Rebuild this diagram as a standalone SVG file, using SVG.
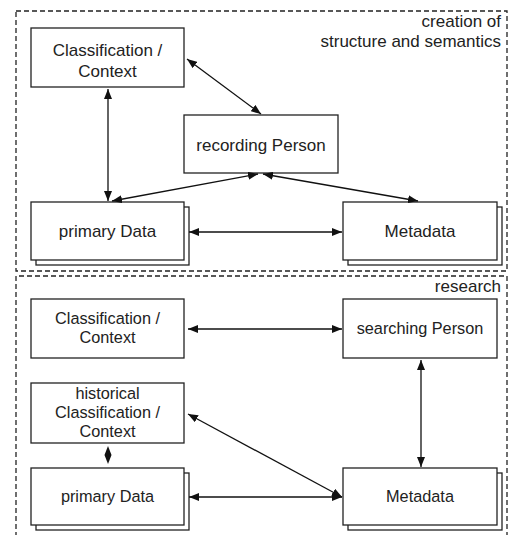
<svg xmlns="http://www.w3.org/2000/svg" width="514" height="535" viewBox="0 0 514 535">
<style>
.frame{fill:none;stroke:#222;stroke-width:1.3;stroke-dasharray:5 3}
.box{fill:#fff;stroke:#222;stroke-width:1.3}
.conn{fill:none;stroke:#111;stroke-width:1.3}
text{font-family:"Liberation Sans",Arial,sans-serif;fill:#222}
.t{font-size:17px;text-anchor:middle}
.b{font-size:16.3px;text-anchor:middle}
.lbl{font-size:17px;text-anchor:end}
</style>
<defs>
<marker id="ah" viewBox="0 0 10 8" refX="10" refY="4" markerWidth="10" markerHeight="8" markerUnits="userSpaceOnUse" orient="auto-start-reverse">
<path d="M0,0 L10,4 L0,8 Z" fill="#111"/>
</marker>
</defs>
<g id="frame-creation">
<rect class="frame" x="16" y="11" width="491" height="260"/>
<text class="lbl" x="501" y="27">creation of</text>
<text class="lbl" x="501" y="47">structure and semantics</text>
</g>
<g id="frame-research">
<path class="frame" d="M16,545 V276 H507 V545"/>
<text class="lbl" x="501" y="292">research</text>
</g>
<g id="top-classification">
<rect class="box" x="31" y="28" width="153" height="59"/>
<text class="t" x="107.5" y="56">Classification /</text>
<text class="t" x="107.5" y="77">Context</text>
</g>
<g id="top-recording-person">
<rect class="box" x="184" y="115" width="154" height="58"/>
<text class="t" x="261" y="151">recording Person</text>
</g>
<g id="top-primary-data">
<rect class="box" x="36" y="207" width="153" height="58"/>
<rect class="box" x="31" y="202" width="153" height="58"/>
<text class="t" x="107.5" y="237">primary Data</text>
</g>
<g id="top-metadata">
<rect class="box" x="348" y="207" width="154" height="58"/>
<rect class="box" x="343" y="202" width="154" height="58"/>
<text class="t" x="420" y="237">Metadata</text>
</g>
<g id="bottom-classification">
<rect class="box" x="31" y="299" width="153" height="59"/>
<text class="b" x="107.5" y="324">Classification /</text>
<text class="b" x="107.5" y="343">Context</text>
</g>
<g id="bottom-searching-person">
<rect class="box" x="343" y="299" width="154" height="59"/>
<text class="b" x="420" y="334">searching Person</text>
</g>
<g id="bottom-historical">
<rect class="box" x="31" y="383" width="153" height="60"/>
<text class="b" x="107.5" y="399">historical</text>
<text class="b" x="107.5" y="418">Classification /</text>
<text class="b" x="107.5" y="437">Context</text>
</g>
<g id="bottom-primary-data">
<rect class="box" x="36" y="473" width="153" height="57"/>
<rect class="box" x="31" y="468" width="153" height="57"/>
<text class="b" x="107.5" y="502">primary Data</text>
</g>
<g id="bottom-metadata">
<rect class="box" x="348" y="473" width="154" height="57"/>
<rect class="box" x="343" y="468" width="154" height="57"/>
<text class="b" x="420" y="502">Metadata</text>
</g>
<g id="connectors">
<line class="conn" x1="187" y1="59" x2="261" y2="114" marker-start="url(#ah)" marker-end="url(#ah)"/>
<line class="conn" x1="108" y1="89" x2="108" y2="201" marker-start="url(#ah)" marker-end="url(#ah)"/>
<line class="conn" x1="258" y1="174" x2="112" y2="201" marker-start="url(#ah)" marker-end="url(#ah)"/>
<line class="conn" x1="263" y1="174" x2="418" y2="201" marker-start="url(#ah)" marker-end="url(#ah)"/>
<line class="conn" x1="189" y1="232" x2="342" y2="232" marker-start="url(#ah)" marker-end="url(#ah)"/>
<line class="conn" x1="188" y1="329" x2="342" y2="329" marker-start="url(#ah)" marker-end="url(#ah)"/>
<line class="conn" x1="421" y1="360" x2="421" y2="467" marker-start="url(#ah)" marker-end="url(#ah)"/>
<line class="conn" x1="188" y1="414" x2="342" y2="497" marker-start="url(#ah)" marker-end="url(#ah)"/>
<path d="M108,446 L111.5,455 L108,464 L104.5,455 Z" fill="#111"/>
<line class="conn" x1="189" y1="497" x2="342" y2="497" marker-start="url(#ah)" marker-end="url(#ah)"/>
</g>
</svg>
